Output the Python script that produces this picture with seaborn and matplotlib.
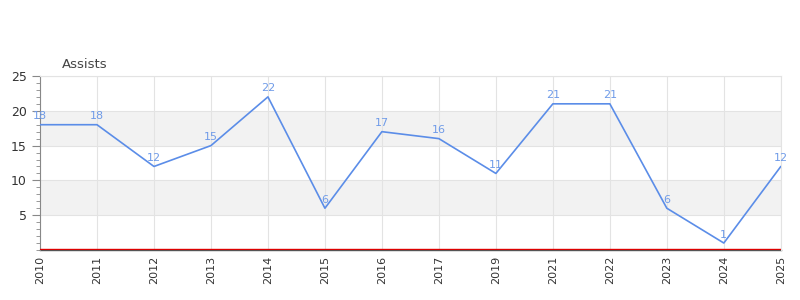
import matplotlib
matplotlib.use("Agg")
import matplotlib.pyplot as plt
import seaborn as sns
import pandas as pd
from matplotlib.ticker import MultipleLocator

years = ["2010", "2011", "2012", "2013", "2014", "2015", "2016", "2017",
         "2019", "2021", "2022", "2023", "2024", "2025"]
assists = [18, 18, 12, 15, 22, 6, 17, 16, 11, 21, 21, 6, 1, 12]

df = pd.DataFrame({"year": years, "assists": assists})
df["pos"] = range(len(years))

sns.set_style("white")
plt.rcParams['font.family'] = ['DejaVu Sans']

fig = plt.figure(figsize=(8, 3), dpi=100)
ax = fig.add_axes([0.05, 0.1667, 0.926, 0.58])

line_color = "#5b8de8"
label_color = "#6f9be8"

# alternating bands
for lo, hi in [(5, 10), (15, 20)]:
    ax.axhspan(lo, hi, color="#f2f2f2", zorder=0, lw=0)

sns.lineplot(data=df, x="pos", y="assists", ax=ax, color=line_color, lw=1.2, zorder=3)

for p, v in zip(df["pos"], df["assists"]):
    ax.text(p, v + 0.5, str(v), color=label_color, ha="center", va="bottom", fontsize=8, zorder=4)

ax.set_xlim(0, len(years) - 1)
ax.set_ylim(0, 25)
ax.set_xticks(df["pos"])
ax.set_xticklabels(years, rotation=90, fontsize=8, color="#333333")
ax.set_yticks([5, 10, 15, 20, 25])
ax.set_yticklabels(["5", "10", "15", "20", "25"], fontsize=9, color="#333333")
ax.yaxis.set_minor_locator(MultipleLocator(1))
ax.tick_params(axis="y", which="major", length=6, color="#888888", direction="out", left=True)
ax.tick_params(axis="y", which="minor", length=3, color="#888888", direction="out", left=True)
ax.tick_params(axis="x", length=0, pad=4)

ax.grid(True, axis="both", which="major", color="#e3e3e3", lw=0.8, zorder=1)
ax.set_axisbelow(True)

for s in ["top", "right"]:
    ax.spines[s].set_visible(True)
    ax.spines[s].set_color("#e3e3e3")
    ax.spines[s].set_linewidth(0.8)
ax.spines["left"].set_color("#888888")
ax.spines["bottom"].set_color("#555555")
ax.spines["bottom"].set_linewidth(1.0)
ax.spines["bottom"].set_zorder(2)

ax.axhline(0.2, color="#dd0000", lw=1.0, zorder=5)

ax.set_xlabel("")
ax.set_ylabel("")
fig.text(0.0775, 0.762, "Assists", fontsize=9.5, color="#444444", ha="left", va="bottom")

fig.savefig("out.png", dpi=100)
